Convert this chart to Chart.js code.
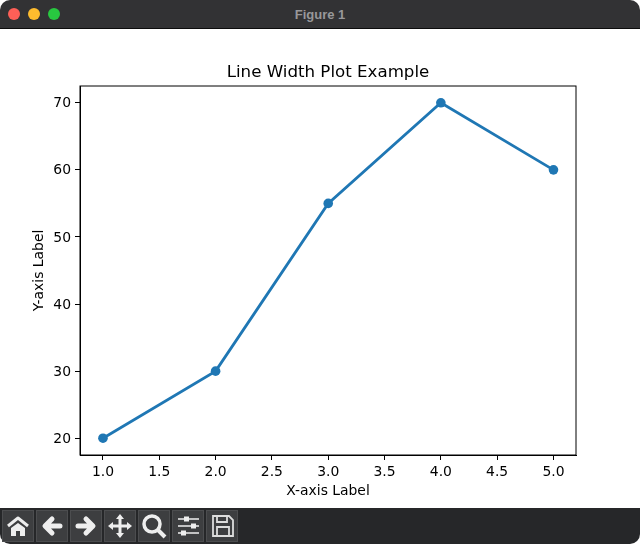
<!DOCTYPE html>
<html>
<head>
<meta charset="utf-8">
<title>Figure 1</title>
<script src="https://cdn.jsdelivr.net/npm/chart.js@4"></script>
<style>
  html, body { margin: 0; padding: 0; width: 640px; height: 544px; overflow: hidden; background: #fff; font-family: "DejaVu Sans", sans-serif; }
  #titlebar { position: absolute; left: 0; top: 0; width: 640px; height: 29px; background: #323234; border-bottom: 1px solid #0c0c0c; box-sizing: border-box; border-radius: 10px 10px 0 0; }
  #titlebar span { position: absolute; top: 8px; width: 12px; height: 12px; border-radius: 50%; }
  #titlebar div { position: absolute; left: 0; width: 640px; top: 7px; text-align: center; font: bold 13px "Liberation Sans", sans-serif; color: #98989a; }
  #holder { position: absolute; left: 0; top: 28px; width: 640px; height: 480px; }
  #toolbar { position: absolute; left: 0; top: 508px; width: 640px; height: 36px; background: #262729; border-radius: 0 0 10px 10px; }
  #toolbar svg { position: absolute; top: 2px; width: 32px; height: 32px; background: #3d3e40; outline: 1px solid #4c4d4f; outline-offset: -1px; }
</style>
</head>
<body>
<div id="titlebar">
  <span style="left:8px;background:#fe5f57"></span>
  <span style="left:28px;background:#febc2e"></span>
  <span style="left:48px;background:#28c840"></span>
  <div>Figure 1</div>
</div>
<div id="holder"><canvas id="grafico" width="640" height="480"></canvas></div>
<div id="toolbar">
  <svg style="left:2px" viewBox="0 0 32 32"><path d="M6 16 L16 8 L26 16" fill="none" stroke="#eee" stroke-width="3" stroke-linejoin="round"/><path d="M9 18 L16 13 L23 18 V26 H18 V21 H14 V26 H9 Z" fill="#eee"/></svg>
  <svg style="left:36px" viewBox="0 0 32 32"><path d="M24 16 H10 M16 9 L9 16 L16 23" fill="none" stroke="#eee" stroke-width="5" stroke-linecap="round" stroke-linejoin="round"/></svg>
  <svg style="left:70px" viewBox="0 0 32 32"><path d="M8 16 H22 M16 9 L23 16 L16 23" fill="none" stroke="#eee" stroke-width="5" stroke-linecap="round" stroke-linejoin="round"/></svg>
  <svg style="left:104px" viewBox="0 0 32 32"><path d="M16 4 L20 9 H17.5 V14.5 H23 V12 L28 16 L23 20 V17.5 H17.5 V23 H20 L16 28 L12 23 H14.5 V17.5 H9 V20 L4 16 L9 12 V14.5 H14.5 V9 H12 Z" fill="#eee"/></svg>
  <svg style="left:138px" viewBox="0 0 32 32"><circle cx="14" cy="14" r="8" fill="none" stroke="#eee" stroke-width="3.5"/><path d="M20 20 L27 27" stroke="#eee" stroke-width="4"/></svg>
  <svg style="left:172px" viewBox="0 0 32 32"><path d="M6 9 H27 M6 16 H27 M6 23 H27" stroke="#eee" stroke-width="1.5"/><rect x="12" y="6.5" width="5" height="5" fill="#eee"/><rect x="19" y="13.5" width="5" height="5" fill="#eee"/><rect x="9" y="20.5" width="5" height="5" fill="#eee"/></svg>
  <svg style="left:206px" viewBox="0 0 32 32"><path d="M7 6 H23 L27 10 V26 H7 Z M11 6 V12 H21 V6 M11 26 V17 H23 V26" fill="none" stroke="#ddd" stroke-width="1.8"/></svg>
</div>
<script>
const xValues = [1, 2, 3, 4, 5];
const yValues = [20, 30, 55, 70, 60];
const xTicks = [1, 1.5, 2, 2.5, 3, 3.5, 4, 4.5, 5];
const yTicks = [20, 30, 40, 50, 60, 70];

// top and right spines, chart.js only draws the left and bottom axis border
const spines = {
  id: 'spines',
  beforeDatasetsDraw(chart) {
    const { ctx, chartArea: a } = chart;
    ctx.save();
    ctx.strokeStyle = '#000';
    ctx.lineWidth = 1;
    ctx.strokeRect(a.left, a.top, a.right - a.left, a.bottom - a.top);
    ctx.restore();
  }
};

const tickStyle = { color: '#000', font: { family: 'DejaVu Sans', size: 13.9 } };

const grafico = new Chart(document.getElementById('grafico').getContext('2d'), {
  type: 'line',
  data: {
    datasets: [{
      data: xValues.map((x, i) => ({ x: x, y: yValues[i] })),
      borderColor: '#1f77b4',
      backgroundColor: '#1f77b4',
      borderWidth: 2.8,
      pointRadius: 4.8,
      pointBorderWidth: 0,
      pointHoverRadius: 4.8,
      tension: 0,
      clip: false
    }]
  },
  plugins: [spines],
  options: {
    animation: false,
    responsive: false,
    layout: { padding: { left: 0, right: 64, top: 0, bottom: 0 } },
    plugins: {
      legend: { display: false },
      tooltip: { enabled: false },
      title: {
        display: true,
        fullSize: false,
        text: 'Line Width Plot Example',
        color: '#000',
        font: { family: 'DejaVu Sans', size: 16.67, weight: 'normal' },
        padding: { top: 35, bottom: 3 }
      }
    },
    scales: {
      x: {
        type: 'linear',
        min: 0.796,
        max: 5.2,
        afterBuildTicks: axis => { axis.ticks = xTicks.map(v => ({ value: v })); },
        afterFit: axis => { axis.height = 53; },
        grid: { drawOnChartArea: false, tickLength: 5, tickColor: '#000' },
        border: { color: '#000', width: 1 },
        ticks: { ...tickStyle, maxRotation: 0, autoSkip: false, padding: 4, callback: v => v.toFixed(1) },
        title: { display: true, text: 'X-axis Label', color: '#000', font: { family: 'DejaVu Sans', size: 13.9 }, padding: { top: 2, bottom: 8 } }
      },
      y: {
        min: 17.5,
        max: 72.5,
        afterBuildTicks: axis => { axis.ticks = yTicks.map(v => ({ value: v })); },
        afterFit: axis => { axis.width = 80; },
        grid: { drawOnChartArea: false, tickLength: 5, tickColor: '#000' },
        border: { color: '#000', width: 1 },
        ticks: { ...tickStyle, autoSkip: false, padding: 4, labelOffset: 1 },
        title: { display: true, text: 'Y-axis Label', color: '#000', font: { family: 'DejaVu Sans', size: 13.9 }, padding: { top: 31, bottom: 0 } }
      }
    }
  }
});
</script>
</body>
</html>
